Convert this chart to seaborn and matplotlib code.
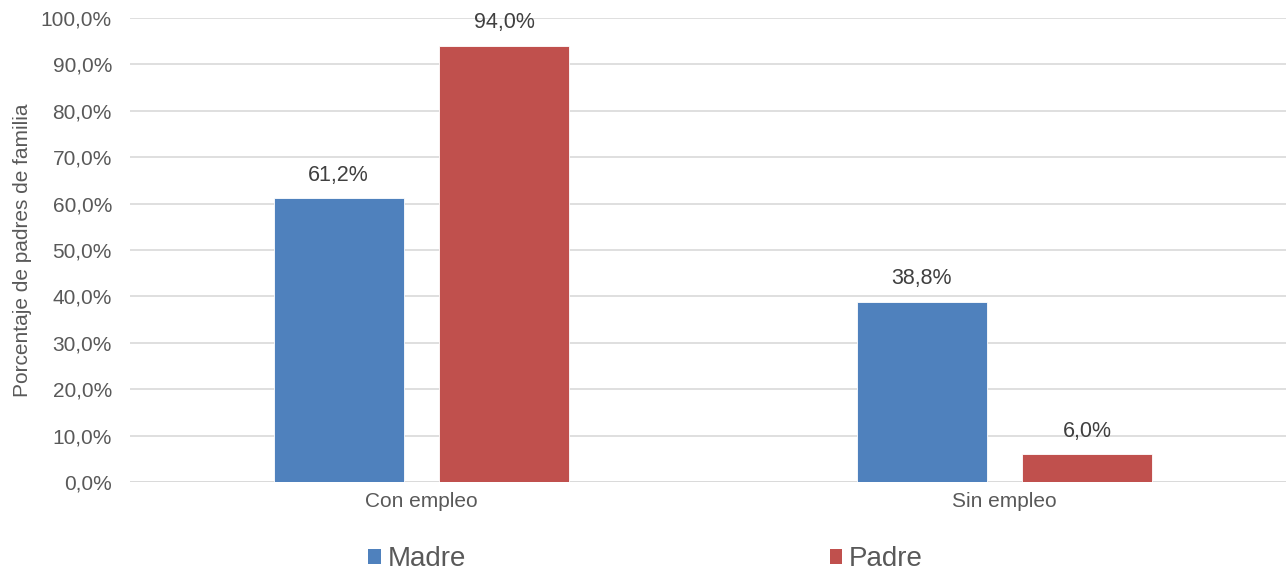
import matplotlib
matplotlib.use("Agg")
import matplotlib.pyplot as plt
import seaborn as sns
import pandas as pd
from matplotlib.ticker import FuncFormatter

categories = ["Con empleo", "Sin empleo"]
series = ["Madre", "Padre"]
madre = [61.2, 38.8]
padre = [94.0, 6.0]
colors = ["#4f81bd", "#c0504d"]

df = pd.DataFrame({
    "cat": categories * 2,
    "serie": ["Madre"] * 2 + ["Padre"] * 2,
    "val": madre + padre,
})

sns.set_theme(style="white")
plt.rcParams["font.family"] = ["Liberation Sans", "DejaVu Sans"]

W, H = 1286, 571
fig = plt.figure(figsize=(W / 100, H / 100), dpi=100)
ax = fig.add_axes([130 / W, (H - 482) / H, (W - 130) / W, 464 / H])

sns.barplot(data=df, x="cat", y="val", hue="serie", order=categories,
            hue_order=series, palette=colors, width=0.569, gap=0.217,
            ax=ax, saturation=1, edgecolor="white", linewidth=0.6)

ax.set_ylim(0, 100)
ax.set_xlim(-0.5, 1.5 - 10 / 583)
ax.set_yticks(range(0, 101, 10))
ax.yaxis.set_major_formatter(FuncFormatter(lambda v, p: f"{v:.1f}%".replace(".", ",")))
ax.grid(axis="y", color="#d9d9d9", linewidth=1.2)
ax.set_axisbelow(True)
for s in ax.spines.values():
    s.set_visible(False)
ax.axhline(0, color="#d9d9d9", linewidth=1.2, zorder=0.5)

ax.tick_params(axis="y", labelsize=15, colors="#595959", length=0, pad=13)
ax.tick_params(axis="x", labelsize=15, colors="#595959", length=0, pad=7)
ax.set_xlabel("")
ax.set_ylabel("Porcentaje de padres de familia", fontsize=15, color="#595959", labelpad=6)

for cont in ax.containers:
    ax.bar_label(cont, labels=[f"{v:.1f}%".replace(".", ",") for v in cont.datavalues],
                 padding=9, fontsize=15.5, color="#404040")

leg = ax.legend(loc="center", bbox_to_anchor=(0.446, -0.166), ncol=2, frameon=False,
                fontsize=20, handlelength=0.45, handleheight=0.45, handletextpad=0.25,
                columnspacing=13.1, labelcolor="#595959", borderpad=0.2)
for h in leg.legend_handles:
    h.set_edgecolor("none")

fig.savefig("out.png", dpi=100)
